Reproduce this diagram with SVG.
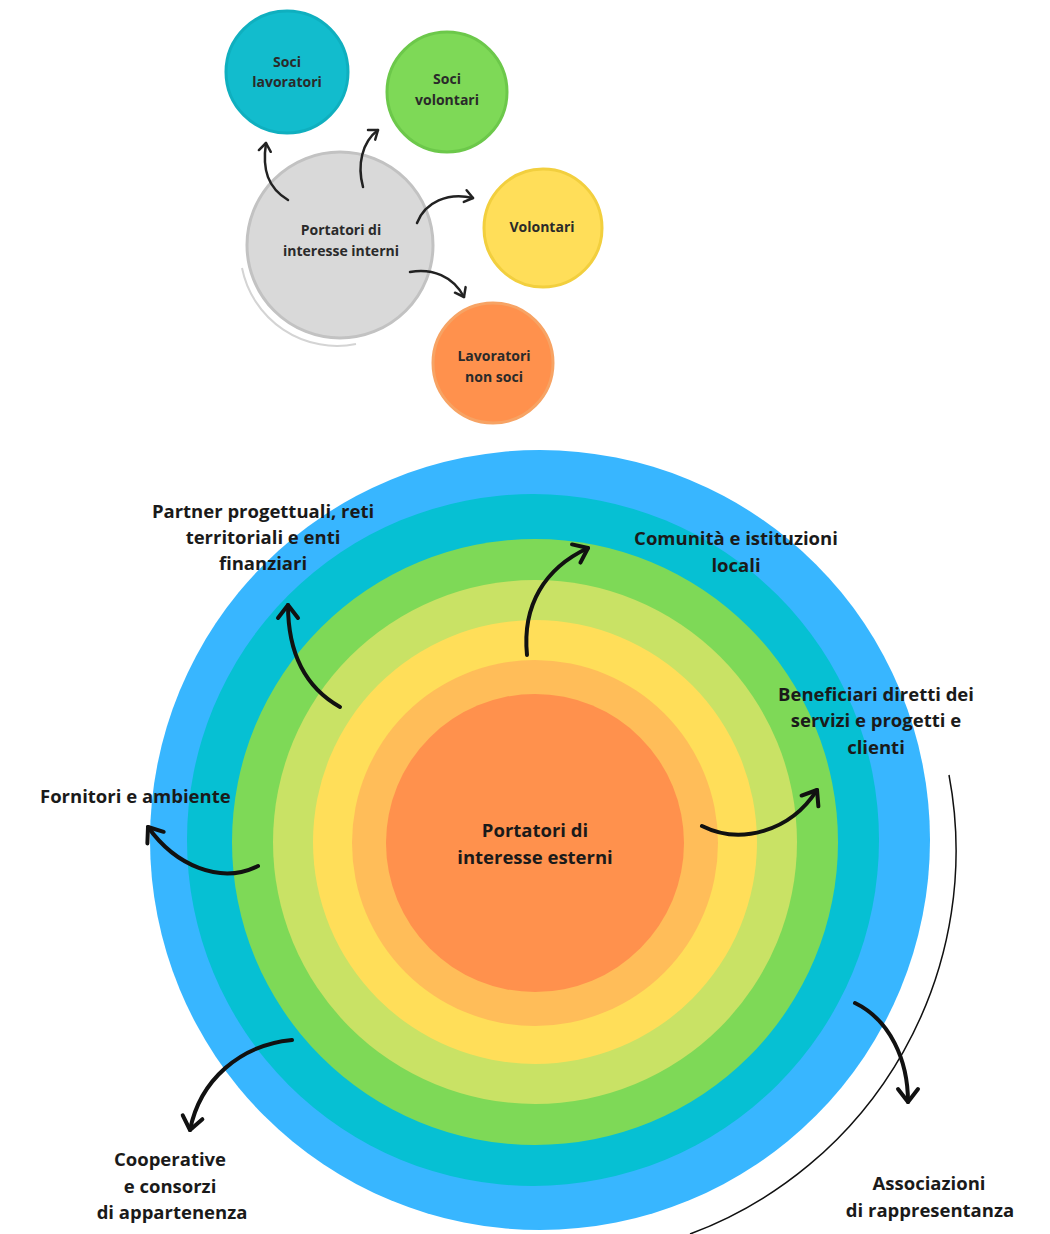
<svg xmlns="http://www.w3.org/2000/svg" width="1050" height="1234" viewBox="0 0 1050 1234">
<style>
  .lbl { font-family: "Open Sans", "Liberation Sans", sans-serif; font-weight: 700; font-size: 18.5px; fill: #1a1a1a; text-anchor: middle; }
  .sm { font-family: "Open Sans", "Liberation Sans", sans-serif; font-weight: 700; font-size: 14px; fill: #2a2a2a; text-anchor: middle; }
  .big { fill: none; stroke: #111; stroke-width: 4; stroke-linecap: round; }
  .small { fill: none; stroke: #222; stroke-width: 2.5; stroke-linecap: round; }
</style>
<defs>
  <marker id="headBig" markerUnits="userSpaceOnUse" markerWidth="30" markerHeight="30" refX="0" refY="0" viewBox="-16 -15 30 30" orient="auto" overflow="visible">
    <path d="M -13 -10 L 0 0 L -13 10" fill="none" stroke="#111" stroke-width="4" stroke-linecap="round" stroke-linejoin="round"/>
  </marker>
  <marker id="headSmall" markerUnits="userSpaceOnUse" markerWidth="20" markerHeight="20" refX="0" refY="0" viewBox="-10 -10 20 20" orient="auto" overflow="visible">
    <path d="M -8 -6 L 0 0 L -8 6" fill="none" stroke="#222" stroke-width="2.5" stroke-linecap="round" stroke-linejoin="round"/>
  </marker>
</defs>
<rect width="1050" height="1234" fill="#ffffff"/>

<!-- Top cluster -->
<g id="shadow-interni">
  <path d="M 242 268 A 97 97 0 0 0 356 344" fill="none" stroke="#d4d4d4" stroke-width="2"/>
</g>
<g id="node-interni">
  <circle cx="340" cy="245" r="93" fill="#d9d9d9" stroke="#c2c2c2" stroke-width="3"/>
  <text class="sm" x="341" y="235">Portatori di</text>
  <text class="sm" x="341" y="256">interesse interni</text>
</g>
<g id="node-soci-lavoratori">
  <circle cx="287" cy="72" r="61" fill="#12bccd" stroke="#0fafbf" stroke-width="3"/>
  <text class="sm" x="287" y="67">Soci</text>
  <text class="sm" x="287" y="87">lavoratori</text>
</g>
<g id="node-soci-volontari">
  <circle cx="447" cy="92" r="60" fill="#7ed957" stroke="#6cc84a" stroke-width="3"/>
  <text class="sm" x="447" y="84">Soci</text>
  <text class="sm" x="447" y="105">volontari</text>
</g>
<g id="node-volontari">
  <circle cx="543" cy="228" r="59" fill="#ffde59" stroke="#f2cf3e" stroke-width="3"/>
  <text class="sm" x="542" y="232">Volontari</text>
</g>
<g id="node-lavoratori-non-soci">
  <circle cx="493" cy="363" r="60" fill="#ff914d" stroke="#f7a364" stroke-width="3"/>
  <text class="sm" x="494" y="361">Lavoratori</text>
  <text class="sm" x="494" y="382">non soci</text>
</g>

<!-- Concentric rings -->
<g id="rings">
  <circle cx="540" cy="840" r="390" fill="#38b6ff"/>
  <circle cx="533" cy="840" r="346" fill="#06c0d3"/>
  <circle cx="535" cy="842" r="303" fill="#7ed957"/>
  <circle cx="535" cy="842" r="262" fill="#c9e265"/>
  <circle cx="535" cy="842" r="222" fill="#ffde59"/>
  <circle cx="535" cy="843" r="183" fill="#ffbd59"/>
</g>
<g id="node-esterni">
  <circle cx="535" cy="843" r="149" fill="#ff914d"/>
  <text class="lbl" x="535" y="837">Portatori di</text>
  <text class="lbl" x="535" y="864">interesse esterni</text>
</g>

<g id="outer-arc">
  <path d="M 949 775 A 409 409 0 0 1 690 1234" fill="none" stroke="#111" stroke-width="1.5"/>
</g>

<!-- Connectors -->
<g id="connectors">
  <path class="small" d="M 288 200 C 268 188 262 170 266 143" marker-end="url(#headSmall)"/>
  <path class="small" d="M 363 187 C 357 165 362 142 378 130" marker-end="url(#headSmall)"/>
  <path class="small" d="M 417 223 C 425 202 448 192 473 198" marker-end="url(#headSmall)"/>
  <path class="small" d="M 410 272 C 432 268 453 276 464 297" marker-end="url(#headSmall)"/>

  <path class="big" d="M 340 707 C 310 690 288 660 288 605" marker-end="url(#headBig)"/>
  <path class="big" d="M 527 655 C 522 605 545 568 588 548" marker-end="url(#headBig)"/>
  <path class="big" d="M 702 826 C 740 845 790 832 817 790" marker-end="url(#headBig)"/>
  <path class="big" d="M 258 866 C 220 885 175 865 148 827" marker-end="url(#headBig)"/>
  <path class="big" d="M 292 1040 C 240 1045 200 1080 190 1130" marker-end="url(#headBig)"/>
  <path class="big" d="M 855 1003 C 890 1020 908 1060 908 1102" marker-end="url(#headBig)"/>
</g>

<!-- Labels -->
<g id="label-partner">
  <text class="lbl" x="263" y="518">Partner progettuali, reti</text>
  <text class="lbl" x="263" y="544">territoriali e enti</text>
  <text class="lbl" x="263" y="570">finanziari</text>
</g>
<g id="label-comunita">
  <text class="lbl" x="736" y="545">Comunità e istituzioni</text>
  <text class="lbl" x="736" y="572">locali</text>
</g>
<g id="label-beneficiari">
  <text class="lbl" x="876" y="701">Beneficiari diretti dei</text>
  <text class="lbl" x="876" y="727">servizi e progetti e</text>
  <text class="lbl" x="876" y="754">clienti</text>
</g>
<g id="label-fornitori">
  <text class="lbl" x="40" y="803" style="text-anchor:start">Fornitori e ambiente</text>
</g>
<g id="label-cooperative">
  <text class="lbl" x="170" y="1166">Cooperative</text>
  <text class="lbl" x="170" y="1193">e consorzi</text>
  <text class="lbl" x="172" y="1219">di appartenenza</text>
</g>
<g id="label-associazioni">
  <text class="lbl" x="929" y="1190">Associazioni</text>
  <text class="lbl" x="930" y="1217">di rappresentanza</text>
</g>
</svg>
